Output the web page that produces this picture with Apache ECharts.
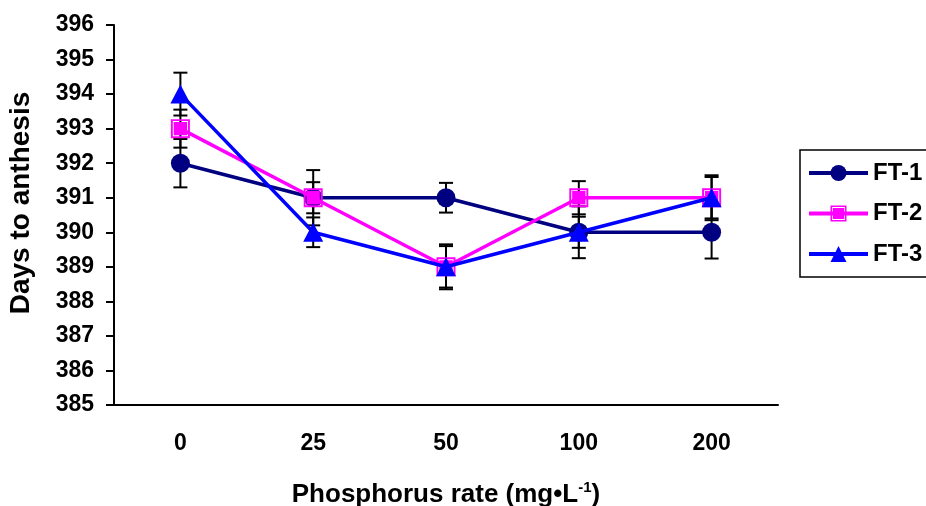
<!DOCTYPE html>
<html>
<head>
<meta charset="utf-8">
<script src="https://cdn.jsdelivr.net/npm/echarts@6/dist/echarts.min.js"></script>
<style>
html,body{margin:0;padding:0;background:#fff;}
#chart{width:926px;height:506px;}
</style>
</head>
<body>
<div id="chart"></div>
<script>
const categories = ['0', '25', '50', '100', '200'];
const seriesNames = ['FT-1', 'FT-2', 'FT-3'];
const ft1 = [392, 391, 391, 390, 390];
const ft2 = [393, 391, 389, 391, 391];
const ft3 = [394, 390, 389, 390, 391];
const ft1Err = [0.70, 0.45, 0.43, 0.75, 0.76];
const ft2Err = [0.55, 0.80, 0.65, 0.48, 0.60];
const ft3Err = [0.62, 0.43, 0.60, 0.45, 0.65];
const yMin = 385;
const yMax = 396;
const yStep = 1;

const FONT = '"Liberation Sans", Arial, sans-serif';
const squarePath = 'path://M0,0H20V20H0Z M2,2V18H18V2Z M3,3H17V17H3Z';

function errData(vals, errs) {
  return vals.map((v, i) => [i, v - errs[i], v + errs[i]]);
}

function renderErr(params, api) {
  const x = api.value(0);
  const lo = api.coord([x, api.value(1)]);
  const hi = api.coord([x, api.value(2)]);
  const hw = 7;
  const st = { stroke: '#000', lineWidth: 2 };
  return {
    type: 'group',
    children: [
      { type: 'line', shape: { x1: hi[0], y1: hi[1], x2: lo[0], y2: lo[1] }, style: st },
      { type: 'line', shape: { x1: hi[0] - hw, y1: hi[1], x2: hi[0] + hw, y2: hi[1] }, style: st },
      { type: 'line', shape: { x1: lo[0] - hw, y1: lo[1], x2: lo[0] + hw, y2: lo[1] }, style: st }
    ]
  };
}

function errSeries(name, vals, errs) {
  return {
    name: name + ' err',
    type: 'custom',
    renderItem: renderErr,
    data: errData(vals, errs),
    encode: { x: 0, y: [1, 2] },
    z: 1,
    silent: true
  };
}

const chart = echarts.init(document.getElementById('chart'), null, { renderer: 'canvas' });
chart.setOption({
  backgroundColor: '#fff',
  animation: false,
  textStyle: { fontFamily: FONT },
  grid: { left: 114, top: 25, right: 148, bottom: 101, containLabel: false, outerBoundsMode: 'none' },
  legend: {
    data: seriesNames,
    orient: 'vertical',
    left: 800,
    top: 150,
    padding: [11, 40, 11, 7],
    itemWidth: 59,
    itemHeight: 20,
    itemGap: 16.5,
    borderColor: '#000',
    borderWidth: 1.5,
    lineStyle: { width: 4 },
    textStyle: { fontFamily: FONT, fontWeight: 'bold', fontSize: 24, color: '#000' }
  },
  xAxis: {
    type: 'category',
    data: categories,
    boundaryGap: true,
    axisLine: { lineStyle: { color: '#000', width: 2 } },
    axisTick: { alignWithLabel: false, length: 8, lineStyle: { color: '#000', width: 2 } },
    axisLabel: { margin: 27, color: '#000', fontFamily: FONT, fontWeight: 'bold', fontSize: 23 },
    name: 'Phosphorus rate (mg•L{sup|-1})',
    nameLocation: 'middle',
    nameGap: 75,
    nameTextStyle: {
      color: '#000', fontFamily: FONT, fontWeight: 'bold', fontSize: 26,
      rich: {
        sup: { fontFamily: FONT, fontWeight: 'bold', fontSize: 15, color: '#000', padding: [0, 0, 14, 0] }
      }
    }
  },
  yAxis: {
    type: 'value',
    min: yMin,
    max: yMax,
    interval: yStep,
    splitLine: { show: false },
    axisLine: { show: true, lineStyle: { color: '#000', width: 2 } },
    axisTick: { show: true, length: 8, lineStyle: { color: '#000', width: 2 } },
    axisLabel: { margin: 20, color: '#000', fontFamily: FONT, fontWeight: 'bold', fontSize: 23 },
    name: 'Days to anthesis',
    nameLocation: 'middle',
    nameRotate: 90,
    nameGap: 79,
    nameTextStyle: { color: '#000', fontFamily: FONT, fontWeight: 'bold', fontSize: 28, padding: [0, 0, 0, 24] }
  },
  series: [
    errSeries('FT-1', ft1, ft1Err),
    errSeries('FT-2', ft2, ft2Err),
    errSeries('FT-3', ft3, ft3Err),
    {
      name: 'FT-1', type: 'line', data: ft1, z: 3,
      symbol: 'circle', symbolSize: 19,
      lineStyle: { color: '#000080', width: 3.5 },
      itemStyle: { color: '#000080' }
    },
    {
      name: 'FT-2', type: 'line', data: ft2, z: 4,
      symbol: squarePath, symbolSize: 19,
      lineStyle: { color: '#ff00ff', width: 3.5 },
      itemStyle: { color: '#ff00ff' }
    },
    {
      name: 'FT-3', type: 'line', data: ft3, z: 5,
      symbol: 'triangle', symbolSize: [20, 19],
      lineStyle: { color: '#0000ff', width: 3.5 },
      itemStyle: { color: '#0000ff' }
    }
  ]
});
</script>
</body>
</html>
